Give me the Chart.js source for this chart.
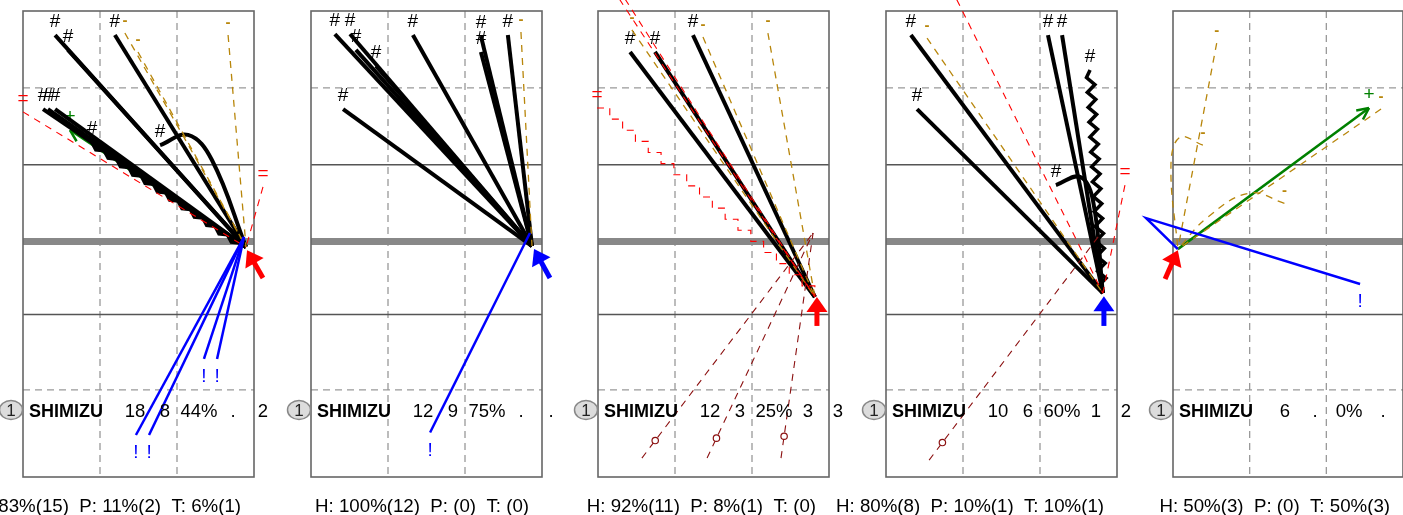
<!DOCTYPE html>
<html>
<head>
<meta charset="utf-8">
<script src="https://cdn.jsdelivr.net/npm/chart.js@4.4.1/dist/chart.umd.min.js"></script>
<style>
  body { margin:0; background:#fff; }
  #wrap { position:relative; width:1403px; height:515px; overflow:hidden; }
  #wrap canvas { position:absolute; left:0; top:0; }
</style>
</head>
<body>
<div id="wrap"></div>
<script>
// court in metres: x 0..9 across, y 9 (far end) .. -9.2 (near end), net at y = 0
const panelLeft = [23, 311, 598, 886, 1173];
const playerName = ['SHIMIZU', 'SHIMIZU', 'SHIMIZU', 'SHIMIZU', 'SHIMIZU'];
const statCols = [
  ['18', '8', '44%', '.', '2'],
  ['12', '9', '75%', '.', '.'],
  ['12', '3', '25%', '3', '3'],
  ['10', '6', '60%', '1', '2'],
  ['6', '.', '0%', '.', '']
];
const summaries = [
  'H: 83%(15)  P: 11%(2)  T: 6%(1)',
  'H: 100%(12)  P: (0)  T: (0)',
  'H: 92%(11)  P: 8%(1)  T: (0)',
  'H: 80%(8)  P: 10%(1)  T: 10%(1)',
  'H: 50%(3)  P: (0)  T: 50%(3)'
];

// origin of every track in each panel
const homes = [[8.69, -0.22], [8.61, -0.18], [8.45, -2.17], [8.45, -2.02], [0.19, -0.30]];

// '#' tracks (black)
const hashEnds = [
  [[1.25, 8.06], [1.75, 7.48], [3.58, 8.06], [0.78, 5.17], [0.97, 5.17], [1.25, 5.17]],
  [[0.93, 8.10], [1.52, 8.10], [1.75, 7.48], [2.53, 6.85], [1.25, 5.17], [3.97, 8.06], [6.62, 8.02], [6.62, 7.40], [7.67, 8.06]],
  [[1.25, 7.40], [2.22, 7.40], [3.70, 8.06]],
  [[0.97, 8.06], [1.21, 5.17], [6.31, 8.06], [6.86, 8.06]],
  []
];
const hashWavy = [[[2.69, 3.88]], [], [], [[7.95, 6.70]], []];
const hashCurves = [
  [[[5.34, 3.76], [6.43, 4.16], [7.36, 3.18]]],
  [], [],
  [[[6.62, 2.20], [7.56, 2.52], [8.06, 1.62]]],
  []
];

// '-' tracks (gold dashed)
const dashEnds = [
  [[3.97, 8.14], [4.48, 7.40], [7.99, 8.06]],
  [[8.18, 8.18]],
  [[1.32, 8.26], [4.09, 7.98], [6.62, 8.14]],
  [[1.60, 7.94]],
  [[8.14, 5.17], [1.71, 7.75]]
];
const dashCurves = [[], [], [], [],
  [[[1.17, 3.76], [0.27, 4.07], [-0.08, 2.98]], [[4.36, 1.49], [3.00, 1.89], [1.36, 0.95]]]
];

// '=' tracks (red dashed)
const equalEnds = [
  [[0.00, 5.06], [9.35, 2.13]],
  [],
  [[0.55, 9.90], [0.78, 9.90]],
  [[2.53, 9.90], [9.31, 2.20]],
  []
];
const equalStairs = [[], [], [[-0.04, 5.21]], [], []];

// ring tracks (dark red dashed)
const ringStarts = [null, null, [8.38, 0.33], [8.41, 0.37], null];
const ringEnds = [[], [], [[1.71, -8.46], [4.25, -8.46], [7.13, -8.46]], [[1.68, -8.54]], []];

// '!' tracks (blue)
const bangStarts = [[8.61, 0.17], [8.53, 0.33], null, null, null];
const bangEnds = [
  [[4.40, -7.56], [4.91, -7.56], [7.05, -4.59], [7.56, -4.59]],
  [[4.64, -7.46]],
  [], [], []
];
const bangPaths = [[], [], [], [], [[[7.32, -1.66], [-1.05, 0.91]]]];

// '+' tracks (green arrows)
const plusEnds = [[[1.83, 4.35]], [], [], [], [[7.67, 5.21]]];

// big arrows
const arrowTails = [[9.35, -1.43], [9.31, -1.43], [8.53, -3.30], [8.49, -3.30], [-0.31, -1.47]];
const arrowTips = [[8.73, -0.34], [8.69, -0.30], [8.53, -2.17], [8.49, -2.14], [0.19, -0.34]];
const arrowColors = ['#ff0000', '#0000ff', '#ff0000', '#0000ff', '#ff0000'];

// court lines
const courtDashX = [3, 6];
const courtDashY = [6, -5.8];
const courtSolidY = [3, -2.85];

const STYLE = {
  hash:  { color: '#000000', width: 4,   dash: [],     label: '#', dy: -13, order: 6 },
  dash:  { color: '#b8860b', width: 1.3, dash: [7, 6], label: '-', dy: -12, order: 5 },
  equal: { color: '#ff0000', width: 1.1, dash: [7, 6], label: '=', dy: -13, order: 4 },
  ring:  { color: '#8b1010', width: 1.1, dash: [7, 6], label: null, dy: 0,  order: 4 },
  bang:  { color: '#0000ff', width: 2.5, dash: [],     label: '!', dy: 18,  order: 3 },
  plus:  { color: '#008000', width: 2.5, dash: [],     label: '+', dy: -13, order: 7 },
  arrow: { color: '#ff0000', width: 5,   dash: [],     label: null, dy: 0,  order: 1 }
};
const FONT = '"Liberation Sans", Arial, sans-serif';

function buildDatasets(p) {
  const ds = [];
  const home = homes[p];
  const add = (kind, pts, extra) => {
    const s = STYLE[kind];
    ds.push(Object.assign({
      kind, data: pts.map(([x, y]) => ({ x, y })),
      showLine: true, borderColor: s.color, borderWidth: s.width, borderDash: s.dash,
      pointRadius: 0, pointHoverRadius: 0, clip: false, order: s.order, tension: 0, fill: false
    }, extra || {}));
  };
  hashEnds[p].forEach(e => add('hash', [e, home]));
  hashCurves[p].forEach(c => add('hash', [...c, home], { tension: 0.4 }));
  hashWavy[p].forEach(e => add('hash', [e, home], { shape: 'zigzag', showLine: false, oneSided: p === 0 }));
  dashEnds[p].forEach(e => add('dash', [e, home]));
  dashCurves[p].forEach(c => add('dash', [...c, home], { tension: 0.4 }));
  equalEnds[p].forEach(e => add('equal', [e, home]));
  equalStairs[p].forEach(e => add('equal', [e, home], { shape: 'stairs', showLine: false }));
  ringEnds[p].forEach(e => add('ring', [e, ringStarts[p]], { shape: 'ring' }));
  bangEnds[p].forEach(e => add('bang', [e, bangStarts[p]]));
  bangPaths[p].forEach(c => add('bang', [...c, home]));
  plusEnds[p].forEach(e => add('plus', [e, home], { shape: 'openHead' }));
  add('arrow', [arrowTails[p], arrowTips[p]], { shape: 'fatArrow', showLine: false, arrowColor: arrowColors[p] });
  return ds;
}

function drawCourt(chart) {
  const { ctx, chartArea: a, scales: { x, y } } = chart;
  const seg = (x1, y1, x2, y2) => { ctx.beginPath(); ctx.moveTo(x1, y1); ctx.lineTo(x2, y2); ctx.stroke(); };
  ctx.save();
  ctx.strokeStyle = '#999'; ctx.lineWidth = 1.3; ctx.setLineDash([7, 5]);
  courtDashX.forEach(v => { const px = x.getPixelForValue(v); seg(px, a.top, px, a.bottom); });
  courtDashY.forEach(v => { const py = y.getPixelForValue(v); seg(a.left, py, a.right, py); });
  ctx.setLineDash([]);
  ctx.strokeStyle = '#555'; ctx.lineWidth = 1.5;
  courtSolidY.forEach(v => { const py = y.getPixelForValue(v); seg(a.left, py, a.right, py); });
  ctx.strokeStyle = '#888'; ctx.lineWidth = 7;
  const ny = y.getPixelForValue(0); seg(a.left, ny, a.right, ny);
  ctx.strokeStyle = '#666'; ctx.lineWidth = 1.6;
  ctx.strokeRect(a.left, a.top, a.right - a.left, a.bottom - a.top);
  ctx.restore();
}

function zigzag(ctx, a, b, amp, wave, oneSided) {
  const dx = b[0] - a[0], dy = b[1] - a[1], len = Math.hypot(dx, dy);
  const ux = dx / len, uy = dy / len, nx = -uy, ny = ux;
  const n = Math.max(2, Math.round(len / (wave / 2)));
  ctx.beginPath(); ctx.moveTo(a[0], a[1]);
  for (let i = 1; i < n; i++) {
    const t = len * i / n;
    const o = oneSided ? (i % 2 ? amp : 0) : (i % 2 ? amp : -amp);
    ctx.lineTo(a[0] + ux * t + nx * o, a[1] + uy * t + ny * o);
  }
  ctx.lineTo(b[0], b[1]); ctx.stroke();
}

function stairs(ctx, a, b, step) {
  const dx = b[0] - a[0], dy = b[1] - a[1];
  const n = Math.max(1, Math.round(Math.hypot(dx, dy) / step));
  let x = a[0], y = a[1];
  ctx.beginPath(); ctx.moveTo(x, y);
  for (let i = 0; i < n; i++) { x += dx / n; ctx.lineTo(x, y); y += dy / n; ctx.lineTo(x, y); }
  ctx.stroke();
}

const trackPlugin = {
  id: 'tracks',
  beforeDatasetsDraw(chart) { drawCourt(chart); },
  afterDatasetDraw(chart, args) {
    const ds = chart.data.datasets[args.index];
    const s = STYLE[ds.kind];
    const pts = args.meta.data.map(e => [e.x, e.y]);
    const ctx = chart.ctx;
    ctx.save();
    ctx.strokeStyle = s.color; ctx.fillStyle = s.color;
    ctx.lineWidth = s.width; ctx.setLineDash(s.dash);
    ctx.lineJoin = 'miter'; ctx.lineCap = 'butt';
    const a = pts[0], b = pts[pts.length - 1];
    const len = Math.hypot(b[0] - a[0], b[1] - a[1]);
    const ux = (b[0] - a[0]) / len, uy = (b[1] - a[1]) / len;
    if (ds.shape === 'zigzag') {
      ctx.lineWidth = ds.oneSided ? 4 : 3.5;
      zigzag(ctx, a, b, ds.oneSided ? 4 : 4, ds.oneSided ? 15 : 15, ds.oneSided);
    } else if (ds.shape === 'stairs') {
      stairs(ctx, a, b, 17);
    } else if (ds.shape === 'ring') {
      ctx.setLineDash([]); ctx.lineWidth = 1.2; ctx.fillStyle = '#fff';
      ctx.beginPath(); ctx.arc(a[0] + ux * 22, a[1] + uy * 22, 3.2, 0, Math.PI * 2); ctx.fill(); ctx.stroke();
    } else if (ds.shape === 'openHead') {
      const ang = Math.atan2(-uy, -ux);
      ctx.setLineDash([]);
      ctx.beginPath();
      [0.45, -0.45].forEach(d => {
        ctx.moveTo(a[0], a[1]);
        ctx.lineTo(a[0] - 13 * Math.cos(ang + d), a[1] - 13 * Math.sin(ang + d));
      });
      ctx.stroke();
    } else if (ds.shape === 'fatArrow') {
      const tail = a, tip = b, hl = 15, hw = 10.5;
      const nx = -uy, ny = ux;
      const bx = tip[0] - ux * hl, by = tip[1] - uy * hl;
      ctx.strokeStyle = ds.arrowColor; ctx.fillStyle = ds.arrowColor; ctx.lineWidth = 5;
      ctx.beginPath(); ctx.moveTo(tail[0], tail[1]); ctx.lineTo(bx + ux * 2, by + uy * 2); ctx.stroke();
      ctx.beginPath(); ctx.moveTo(tip[0], tip[1]);
      ctx.lineTo(bx + nx * hw, by + ny * hw); ctx.lineTo(bx - nx * hw, by - ny * hw);
      ctx.closePath(); ctx.fill();
    }
    if (s.label) {
      ctx.setLineDash([]);
      ctx.fillStyle = s.color;
      ctx.font = (ds.kind === 'dash' ? 'bold 15px ' : '19px ') + FONT;
      ctx.textAlign = 'center'; ctx.textBaseline = 'middle';
      ctx.fillText(s.label, a[0], a[1] + s.dy);
    }
    ctx.restore();
  },
  afterDraw(chart) {
    const p = chart.options.plugins.tracks.panel;
    const { ctx, chartArea: a } = chart;
    const L = a.left, rowY = 417;
    ctx.save();
    ctx.fillStyle = '#dcdcdc'; ctx.strokeStyle = '#888'; ctx.lineWidth = 1.5;
    ctx.beginPath(); ctx.ellipse(L - 12, rowY - 7, 11.5, 9.5, 0, 0, Math.PI * 2); ctx.fill(); ctx.stroke();
    ctx.fillStyle = '#222'; ctx.font = '17px ' + FONT; ctx.textAlign = 'center'; ctx.textBaseline = 'alphabetic';
    ctx.fillText('1', L - 12, rowY - 1);
    ctx.fillStyle = '#000'; ctx.font = 'bold 18px ' + FONT; ctx.textAlign = 'left';
    ctx.fillText(playerName[p], L + 6, rowY);
    ctx.font = '18.5px ' + FONT; ctx.textAlign = 'center';
    const cols = [112, 142, 176, 210, 240];
    statCols[p].forEach((t, i) => ctx.fillText(t, L + cols[i], rowY));
    ctx.font = '18.7px ' + FONT; ctx.textAlign = 'right';
    ctx.fillText(summaries[p], a.right - 13, 512);
    ctx.restore();
  }
};

const wrap = document.getElementById('wrap');
panelLeft.forEach((left, p) => {
  const cv = document.createElement('canvas');
  cv.width = 1403; cv.height = 515;
  wrap.appendChild(cv);
  new Chart(cv, {
    type: 'scatter',
    data: { datasets: buildDatasets(p) },
    options: {
      responsive: false, animation: false, events: [],
      layout: { padding: { left: left, right: 1403 - left - 231, top: 11, bottom: 38 } },
      scales: {
        x: { type: 'linear', min: 0, max: 9, display: false },
        y: { type: 'linear', min: -9.2, max: 9, display: false }
      },
      plugins: { legend: { display: false }, tooltip: { enabled: false }, tracks: { panel: p } }
    },
    plugins: [trackPlugin]
  });
});
</script>
</body>
</html>
